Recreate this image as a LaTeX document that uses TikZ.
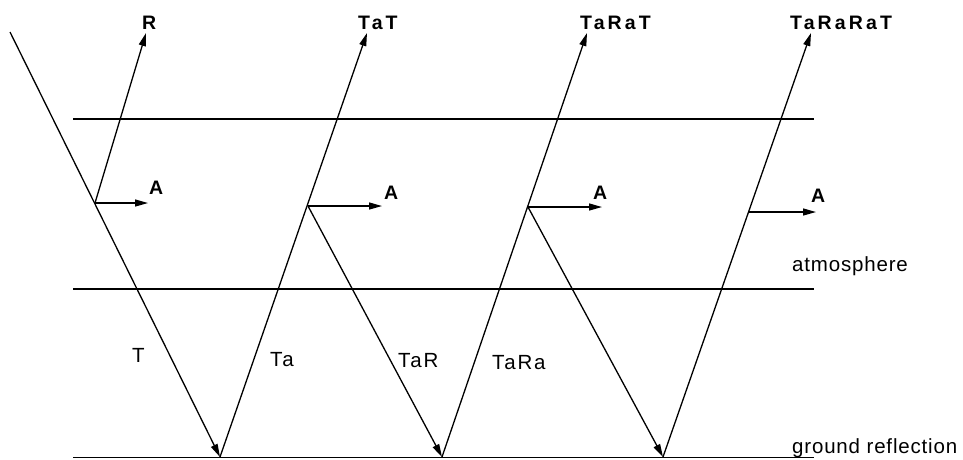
\documentclass[tikz,border=0pt]{standalone}
\usepackage{fontspec}
\setmainfont{Liberation Sans}
\newfontfamily\lsreg[LetterSpace=4]{Liberation Sans}
\newfontfamily\lsregw[LetterSpace=9]{Liberation Sans}
\newfontfamily\lsbold[LetterSpace=16]{Liberation Sans Bold}
\usetikzlibrary{arrows.meta}
\begin{document}
\begin{tikzpicture}[x=1pt,y=-1pt,
  ray/.style={line width=1.3pt},
  arr/.style={ray,-{Triangle[length=13pt,width=7pt]}},
  layer/.style={line width=1.8pt},
  blbl/.style={anchor=base west,inner sep=0pt,font=\fontsize{19.5}{22}\lsbold},
  rlbl/.style={anchor=base west,inner sep=0pt,font=\fontsize{20.5}{24}\lsreg},
  wlbl/.style={anchor=base west,inner sep=0pt,font=\fontsize{20.5}{24}\lsregw}]
\useasboundingbox (0,0) rectangle (963,459);
% layers
\coordinate (t1) at (73,119);  \coordinate (t2) at (814,119);
\coordinate (m1) at (73,289);  \coordinate (m2) at (814,289);
\coordinate (g1l) at (73,457.5); \coordinate (g1r) at (814,457.5);
\draw[layer] (t1) -- (t2);
\draw[layer] (m1) -- (m2);
\draw[layer] (g1l) -- (g1r);
% ray points
\coordinate (s0) at (10,32);
\coordinate (b1) at (95,203);
\coordinate (g1) at (220,457);
\coordinate (b2) at (308,206);
\coordinate (g2) at (442,457);
\coordinate (b3) at (528,207);
\coordinate (g3) at (663,457);
\coordinate (b4) at (748,212);
\coordinate (r1) at (146,33);
\coordinate (r2) at (367,33);
\coordinate (r3) at (587,33);
\coordinate (r4) at (811,33);
\coordinate (a1) at (148,203);
\coordinate (a2) at (382,206);
\coordinate (a3) at (602,207);
\coordinate (a4) at (816,212);
% rays
\draw[arr] (s0) -- (g1);
\draw[arr] (b1) -- (r1);
\draw[arr] (b1) -- (a1);
\draw[arr] (g1) -- (r2);
\draw[arr] (b2) -- (a2);
\draw[arr] (b2) -- (g2);
\draw[arr] (g2) -- (r3);
\draw[arr] (b3) -- (a3);
\draw[arr] (b3) -- (g3);
\draw[arr] (g3) -- (r4);
\draw[arr] (b4) -- (a4);
% labels
\node[blbl] (lR) at (142,29) {R};
\node[blbl] (lTaT) at (358,29) {TaT};
\node[blbl] (lTaRaT) at (580,29) {TaRaT};
\node[blbl] (lTaRaRaT) at (790,29) {TaRaRaT};
\node[blbl] (lA1) at (149,194) {A};
\node[blbl] (lA2) at (384,199) {A};
\node[blbl] (lA3) at (593,199) {A};
\node[blbl] (lA4) at (811,202) {A};
\node[wlbl] (lT) at (132,362) {T};
\node[wlbl] (lTa) at (270,366) {Ta};
\node[wlbl] (lTaR) at (398,367) {TaR};
\node[wlbl] (lTaRa) at (492,369) {TaRa};
\node[rlbl] (latm) at (792,271) {atmosphere};
\node[rlbl] (lgr) at (792,453) {ground reflection};
\end{tikzpicture}
\end{document}
